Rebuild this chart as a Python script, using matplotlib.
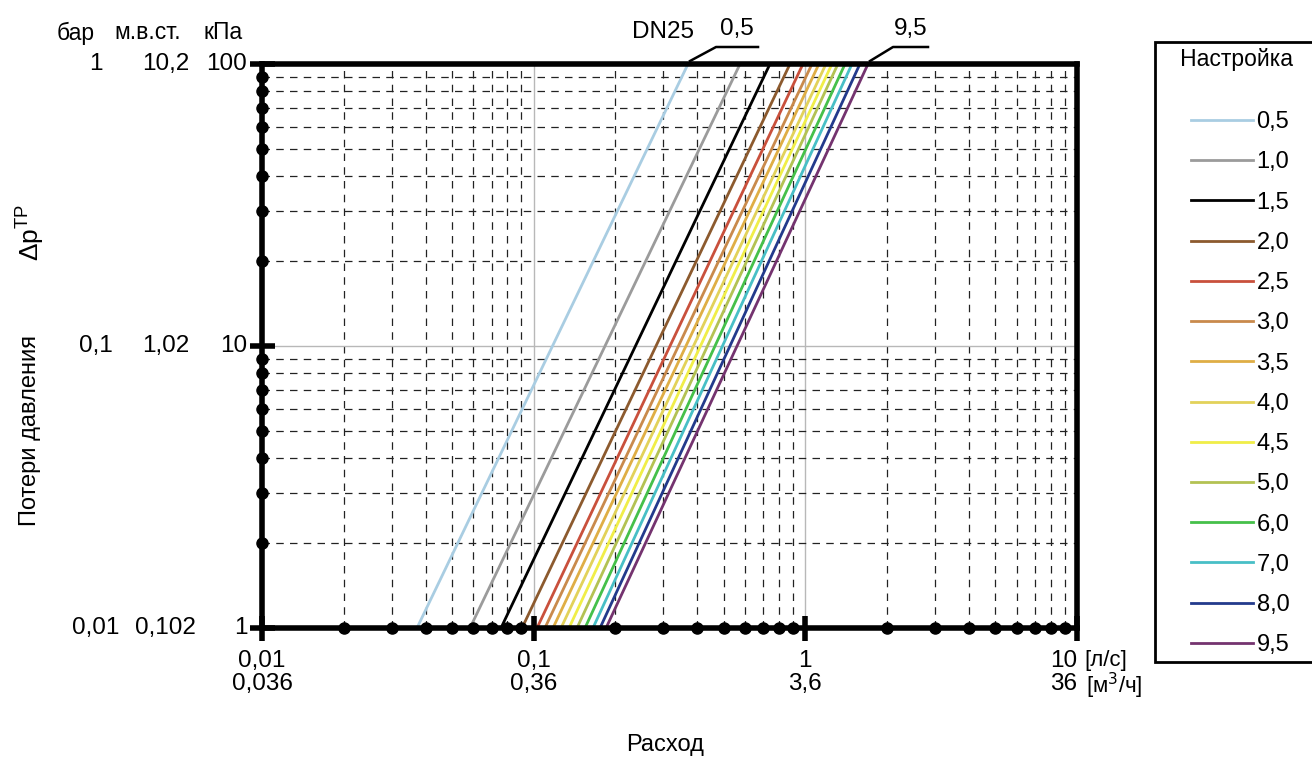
import numpy as np
import matplotlib
matplotlib.use('Agg')
from matplotlib import pyplot as plt
from matplotlib.transforms import blended_transform_factory, IdentityTransform
from matplotlib.legend_handler import HandlerLine2D

plt.rcParams['font.family'] = ['Liberation Sans', 'DejaVu Sans']

# settings of the valve (legend) and flow at 1 kPa / 100 kPa, l/s
settings = ['0,5', '1,0', '1,5', '2,0', '2,5', '3,0', '3,5', '4,0', '4,5', '5,0', '6,0', '7,0', '8,0', '9,5']
q_at_1kpa = [0.0372, 0.0583, 0.0758, 0.0906, 0.1029, 0.110, 0.1178, 0.1261, 0.1349, 0.1444, 0.1545, 0.1653, 0.1755, 0.1847]
q_at_100kpa = [0.370, 0.575, 0.741, 0.878, 0.980, 1.058, 1.122, 1.191, 1.253, 1.318, 1.400, 1.485, 1.588, 1.701]
colors = ['#a9cde2', '#9b9b9b', '#000000', '#8c5a2e', '#c9503c', '#c98a4c', '#dfae45',
          '#e2d25a', '#f0ee48', '#b3c253', '#45c04a', '#48bfc6', '#233a8c', '#74336f']

# axis labels
dp_kpa = [1, 10, 100]
dp_bar = ['0,01', '0,1', '1']
dp_mwc = ['0,102', '1,02', '10,2']
q_ticks = [0.01, 0.1, 1, 10]
q_lps = ['0,01', '0,1', '1', '10']
q_m3h = ['0,036', '0,36', '3,6', '36']


class PaddedLine(HandlerLine2D):
    # legend line that starts after some empty space
    def get_xdata(self, legend, xdescent, ydescent, width, height, fontsize):
        xd, xm = super().get_xdata(legend, xdescent, ydescent, width, height, fontsize)
        return np.array([-xdescent + width * 0.33, -xdescent + width]), xm


fig = plt.figure(figsize=(13.12, 7.64), dpi=100)
ax = fig.add_axes([262/1312, 1-628/764, 815/1312, 564/764])
ax.set_xscale('log')
ax.set_yscale('log')
ax.set_xlim(0.01, 10)
ax.set_ylim(1, 100)

for lab, q1, q2, c in zip(settings, q_at_1kpa, q_at_100kpa, colors):
    ax.plot([q1, q2], [dp_kpa[0], dp_kpa[-1]], color=c, lw=2, label=lab)

# grid
ax.grid(True, which='major', color='#b8b8b8', lw=1, ls='-')
ax.grid(True, which='minor', color='#222222', lw=0.9, ls=(0, (6, 5)))
ax.set_axisbelow(True)

for s in ax.spines.values():
    s.set_linewidth(4)

ax.set_xticks(q_ticks)
ax.set_yticks(dp_kpa)
ax.tick_params(which='major', direction='inout', length=18, width=4, labelbottom=False, labelleft=False)
ax.tick_params(which='minor', length=0, labelbottom=False, labelleft=False)

# round dots on the axes at the minor grid positions
xm = [v for v in ax.xaxis.get_minorticklocs() if 0.01 < v < 10]
ym = [v for v in ax.yaxis.get_minorticklocs() if 1 < v < 100]
ax.plot(xm, [1] * len(xm), 'o', color='black', ms=8, clip_on=False, zorder=5)
ax.plot([0.01] * len(ym), ym, 'o', color='black', ms=8, clip_on=False, zorder=5)

# y labels (three scales)
ty = blended_transform_factory(ax.transAxes, ax.transData)
fs = 17.5
for v, b, m in zip(dp_kpa, dp_bar, dp_mwc):
    ax.text(-0.204, v, b, transform=ty, ha='center', va='center', fontsize=fs)
    ax.text(-0.118, v, m, transform=ty, ha='center', va='center', fontsize=fs)
    ax.text(-0.018, v, str(v), transform=ty, ha='right', va='center', fontsize=fs)
ax.text(-0.228, 1.055, 'бар', transform=ax.transAxes, ha='center', va='center', fontsize=16.5)
ax.text(-0.140, 1.055, 'м.в.ст.', transform=ax.transAxes, ha='center', va='center', fontsize=16.5)
ax.text(-0.048, 1.055, 'кПа', transform=ax.transAxes, ha='center', va='center', fontsize=16.5)

# x labels (two scales)
tx = blended_transform_factory(ax.transData, ax.transAxes)
has = ['center', 'center', 'center', 'right']
for v, a, b, h in zip(q_ticks, q_lps, q_m3h, has):
    ax.text(v, -0.058, a, transform=tx, ha=h, va='center', fontsize=fs)
    ax.text(v, -0.100, b, transform=tx, ha=h, va='center', fontsize=fs)
ax.text(1.009, -0.058, '[л/с]', transform=ax.transAxes, ha='left', va='center', fontsize=16)
ax.text(1.011, -0.103, '[м$^3$/ч]', transform=ax.transAxes, ha='left', va='center', fontsize=16)

fig.text(665/1312, 1-745/764, 'Расход', ha='center', va='center', fontsize=17)
fig.text(30/1312, 1-430/764, 'Потери давления', ha='center', va='center', rotation=90, fontsize=17)
fig.text(30/1312, 1-232/764, 'Δp$^{\\mathregular{ТР}}$', ha='center', va='center', rotation=90, fontsize=19)

# top leaders
fig.text(663/1312, 1-32/764, 'DN25', ha='center', va='center', fontsize=17.5)
H = 764
for i, dx, wl in [(0, 28, 42), (-1, 25, 35)]:
    px, py = ax.transData.transform((q_at_100kpa[i], dp_kpa[-1]))
    xs = [px + 2, px + dx, px + dx + wl]
    ys = [py + 3, py + 17, py + 17]
    fig.add_artist(plt.Line2D(xs, ys, transform=IdentityTransform(), color='black', lw=1.8))
    fig.text((px + dx + wl / 2) / 1312, (py + 35) / H, settings[i], ha='center', va='center', fontsize=17.5)

leg = ax.legend(loc='upper left', bbox_to_anchor=(1155/1312, 1-42/764, 0.2, 0.0),
                bbox_transform=fig.transFigure, mode='expand', title='   Настройка\n',
                fontsize=17, title_fontsize=16.5, handlelength=3.9, handletextpad=0.15,
                labelspacing=0.772, borderpad=0.25, borderaxespad=0, fancybox=False,
                framealpha=1, edgecolor='black', handler_map={plt.Line2D: PaddedLine()})
leg.get_title().set_linespacing(0.95)
leg.get_frame().set_linewidth(2)
leg._legend_box.align = 'left'

fig.savefig('out.png', dpi=100)
